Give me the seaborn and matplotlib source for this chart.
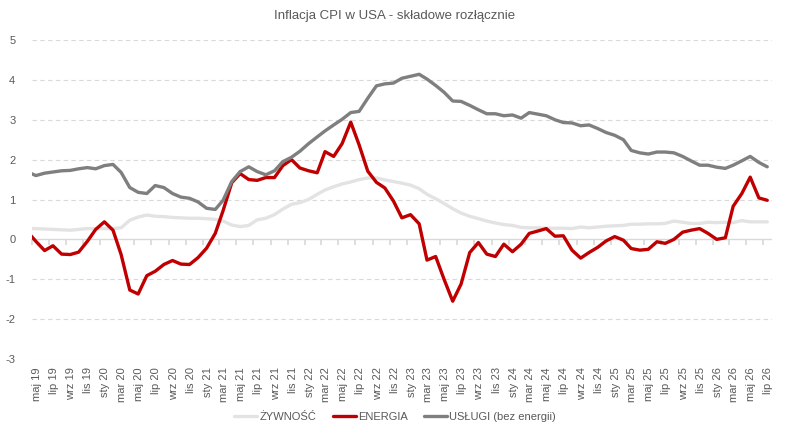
import pandas as pd
import matplotlib
matplotlib.use('Agg')
import matplotlib.pyplot as plt
import matplotlib.dates as mdates
from matplotlib.ticker import FuncFormatter
import seaborn as sns

sns.set_theme(style='white')
plt.rcParams['font.family'] = ['Liberation Sans', 'DejaVu Sans']
plt.rcParams['axes.unicode_minus'] = False

# monthly data, kwi 2019 .. lip 2026 (first point sits left of the axis and gets clipped)
start_month = '2019-04-01'

zywnosc = [0.27, 0.27, 0.26, 0.25, 0.24, 0.23, 0.25, 0.27, 0.27, 0.27, 0.27,
           0.29, 0.48, 0.56, 0.61, 0.58, 0.57, 0.55, 0.54, 0.53, 0.53, 0.52,
           0.50, 0.46, 0.36, 0.32, 0.35, 0.49, 0.53, 0.62, 0.76, 0.88, 0.92,
           1.00, 1.13, 1.24, 1.32, 1.39, 1.44, 1.50, 1.54, 1.54, 1.49, 1.45,
           1.41, 1.36, 1.27, 1.13, 1.02, 0.90, 0.77, 0.66, 0.58, 0.52, 0.46,
           0.41, 0.37, 0.35, 0.30, 0.29, 0.29, 0.28, 0.28, 0.28, 0.27, 0.31,
           0.29, 0.31, 0.33, 0.34, 0.35, 0.38, 0.38, 0.39, 0.39, 0.40, 0.46,
           0.43, 0.40, 0.40, 0.43, 0.42, 0.43, 0.42, 0.47, 0.44, 0.44, 0.44]

energia = [0.19, -0.05, -0.28, -0.16, -0.37, -0.38, -0.32, -0.05, 0.25, 0.44, 0.23,
           -0.38, -1.27, -1.37, -0.91, -0.80, -0.63, -0.53, -0.62, -0.63, -0.46, -0.22,
           0.15, 0.72, 1.42, 1.65, 1.50, 1.48, 1.55, 1.55, 1.85, 2.00, 1.79,
           1.72, 1.67, 2.20, 2.08, 2.40, 2.94, 2.37, 1.71, 1.43, 1.29, 0.96,
           0.54, 0.62, 0.39, -0.52, -0.43, -1.00, -1.55, -1.12, -0.33, -0.08, -0.37,
           -0.43, -0.12, -0.31, -0.12, 0.15, 0.21, 0.27, 0.08, 0.09, -0.27, -0.47,
           -0.33, -0.20, -0.04, 0.07, -0.02, -0.23, -0.27, -0.25, -0.06, -0.10, 0.00,
           0.18, 0.23, 0.27, 0.15, 0.00, 0.04, 0.83, 1.15, 1.56, 1.04, 0.98]

uslugi = [1.69, 1.60, 1.66, 1.69, 1.72, 1.73, 1.77, 1.80, 1.77, 1.85, 1.88,
          1.68, 1.30, 1.18, 1.15, 1.35, 1.30, 1.15, 1.06, 1.03, 0.94, 0.78,
          0.75, 0.98, 1.45, 1.70, 1.82, 1.70, 1.62, 1.72, 1.95, 2.06, 2.21,
          2.40, 2.57, 2.72, 2.87, 3.01, 3.18, 3.21, 3.54, 3.85, 3.90, 3.92,
          4.04, 4.09, 4.14, 4.02, 3.86, 3.69, 3.47, 3.46, 3.36, 3.25, 3.15,
          3.15, 3.10, 3.12, 3.04, 3.18, 3.14, 3.10, 3.00, 2.93, 2.92, 2.85,
          2.87, 2.78, 2.68, 2.61, 2.50, 2.23, 2.17, 2.14, 2.19, 2.19, 2.17,
          2.08, 1.97, 1.86, 1.86, 1.81, 1.78, 1.86, 1.97, 2.08, 1.93, 1.82]

series_names = ['ŻYWNOŚĆ', 'ENERGIA', 'USŁUGI (bez energii)']
colors = ['#e3e3e3', '#c00000', '#7f7f7f']
month_abbr = {1: 'sty', 3: 'mar', 5: 'maj', 7: 'lip', 9: 'wrz', 11: 'lis'}

# points sit in the middle of each month
dates = pd.date_range(start_month, periods=len(energia), freq='MS') + pd.Timedelta(days=14)
df = pd.DataFrame({'data': dates, series_names[0]: zywnosc,
                   series_names[1]: energia, series_names[2]: uslugi})
long_df = df.melt(id_vars='data', var_name='seria', value_name='wartosc')

fig = plt.figure(figsize=(7.9, 4.41), dpi=100)
ax = fig.add_axes([32 / 790, 1 - 359 / 441, 740 / 790, 319 / 441])

for y in range(-3, 6):
    if y != 0:
        ax.axhline(y, color='#d9d9d9', linewidth=0.8, linestyle=(0, (4, 3)), zorder=0)
ax.axhline(0, color='#d9d9d9', linewidth=1.0, zorder=0)

sns.lineplot(data=long_df, x='data', y='wartosc', hue='seria', hue_order=series_names,
             palette=colors, linewidth=2.4, legend=False, ax=ax)

ax.set_xlim(pd.Timestamp('2019-05-01'), pd.Timestamp('2026-08-01'))
ax.set_ylim(-3, 5)
ax.set_yticks(range(-3, 6))
ax.set_xlabel('')
ax.set_ylabel('')
for s in ax.spines.values():
    s.set_visible(False)

locator = mdates.MonthLocator(bymonth=list(month_abbr.keys()))
fmt = FuncFormatter(lambda v, pos: '%s %s' % (month_abbr[mdates.num2date(v).month],
                                                 mdates.num2date(v).strftime('%y')))
ax.xaxis.set_major_locator(locator)
ax.xaxis.set_major_formatter(fmt)
ax.tick_params(axis='x', length=0, pad=6, labelsize=8, labelcolor='#595959')
ax.tick_params(axis='y', length=0, pad=12, labelsize=8, labelcolor='#595959')
for lab in ax.get_xticklabels():
    lab.set_rotation(90)
    lab.set_ha('left')

# tick marks on the zero line
sec = ax.secondary_xaxis(3 / 8)
sec.xaxis.set_major_locator(mdates.MonthLocator(bymonth=list(month_abbr.keys())))
sec.tick_params(axis='x', length=4, color='#d9d9d9', labelbottom=False, direction='out')
sec.spines['bottom'].set_visible(False)

handles = [plt.Line2D([], [], color=c, linewidth=2.4) for c in colors]
fig.legend(handles, series_names, loc='center', bbox_to_anchor=(0.5, 1 - 417 / 441),
           ncol=3, frameon=False, fontsize=8, handlelength=2.1, handletextpad=0.15,
           columnspacing=1.5, labelcolor='#595959')

fig.suptitle('Inflacja CPI w USA - składowe rozłącznie', y=1 - 16 / 441, va='center',
             fontsize=9.5, color='#595959')

fig.savefig('out.png', dpi=100)
